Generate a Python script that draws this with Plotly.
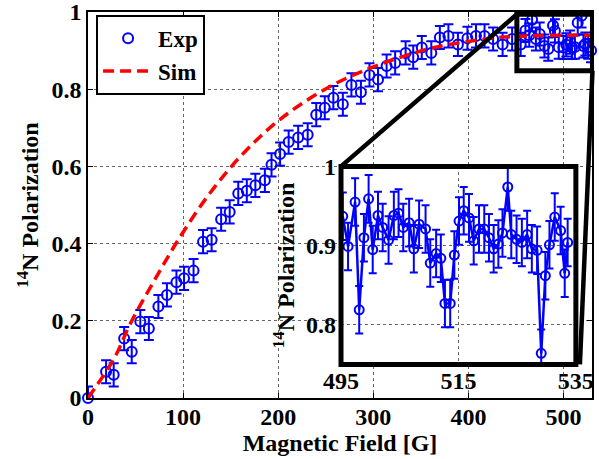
import plotly.graph_objects as go

# ---- Main experimental data (Magnetic field [G], 14N polarization) ----
exp_field = [0, 19, 27, 38, 46, 55, 64, 74, 83, 93, 101, 111, 121, 130, 140, 149, 158, 167,
             176, 186, 193, 202, 211, 221, 231, 240, 249, 258, 268, 277, 287, 296, 305, 314,
             323, 334, 342, 351, 361, 370, 379, 389, 399, 408, 417, 426, 436, 446, 455, 460,
             464, 467, 471, 475, 480, 484, 489, 491, 495, 500, 503, 507, 509, 512, 515, 519,
             521, 523, 526, 529]
exp_pol = [0.0, 0.068, 0.06, 0.154, 0.12, 0.198, 0.18, 0.237, 0.267, 0.300, 0.310, 0.330,
           0.405, 0.410, 0.463, 0.482, 0.530, 0.537, 0.551, 0.564, 0.604, 0.632, 0.663, 0.675,
           0.682, 0.734, 0.752, 0.778, 0.761, 0.811, 0.792, 0.837, 0.825, 0.860, 0.868, 0.894,
           0.883, 0.908, 0.894, 0.934, 0.938, 0.916, 0.932, 0.938, 0.938, 0.930, 0.916, 0.930,
           0.916, 0.952, 0.940, 0.980, 0.930, 0.943, 0.912, 0.904, 0.965, 0.951, 0.909, 0.908,
           0.915, 0.922, 0.908, 0.909, 0.972, 0.990, 0.912, 0.917, 0.909, 0.900]
exp_err = 0.03

# ---- Simulation curve ----
sim_field = [0, 28, 44, 71, 95, 125, 160, 202, 253, 297, 329, 364, 418, 453, 530]
sim_pol = [0.0, 0.105, 0.19, 0.31, 0.41, 0.52, 0.625, 0.722, 0.805, 0.855, 0.883, 0.908,
           0.93, 0.937, 0.94]

# ---- Inset (zoomed) data ----
inset_field = [495.3, 496.2, 497.4, 498.1, 498.9, 499.7, 500.4, 501.3, 502.1, 503.1, 504.0,
               504.8, 505.6, 506.6, 507.4, 508.3, 509.4, 510.2, 511.2, 512.0, 512.7, 513.6,
               514.3, 515.1, 515.9, 516.8, 517.6, 518.5, 519.4, 520.2, 521.0, 521.8, 522.5,
               523.4, 524.0, 524.9, 525.8, 526.7, 527.5, 528.4, 529.1, 529.8, 530.5, 531.4,
               532.4, 533.1, 533.6]
inset_pol = [0.937, 0.899, 0.955, 0.819, 0.910, 0.959, 0.895, 0.938, 0.923, 0.907, 0.938,
             0.941, 0.923, 0.929, 0.896, 0.927, 0.921, 0.878, 0.890, 0.884, 0.827, 0.827,
             0.888, 0.931, 0.944, 0.935, 0.906, 0.921, 0.921, 0.910, 0.896, 0.902, 0.916,
             0.974, 0.914, 0.908, 0.904, 0.914, 0.896, 0.894, 0.764, 0.862, 0.901, 0.936,
             0.919, 0.865, 0.904]

x_ticks = [0, 100, 200, 300, 400, 500]
y_ticks = [0, 0.2, 0.4, 0.6, 0.8, 1]
inset_x_ticks = [495, 515, 535]
inset_y_ticks = [0.8, 0.9, 1]

X_RANGE = [0, 530]
Y_RANGE = [0, 1]
INSET_X_RANGE = [495, 535]
INSET_Y_RANGE = [0.75, 1.0]
ZOOM_BOX = dict(x0=451, x1=530.5, y0=0.848, y1=0.994)
INSET_XDOM = [0.502, 0.968]
INSET_YDOM = [0.087, 0.6]

BLUE = "rgb(0,0,255)"
RED = "rgb(255,0,0)"
FONT = "Liberation Serif"
FS = 24

fig = go.Figure()

# error bars (no legend icon)
fig.add_trace(go.Scatter(
    x=exp_field, y=exp_pol, mode="markers", showlegend=False, hoverinfo="skip",
    marker=dict(size=10, opacity=0),
    error_y=dict(type="constant", value=exp_err, color=BLUE, thickness=2, width=5),
    xaxis="x", yaxis="y",
))
fig.add_trace(go.Scatter(
    x=exp_field, y=exp_pol, mode="markers", name="Exp", cliponaxis=False,
    marker=dict(symbol="circle-open", size=10, color=BLUE, line=dict(width=2, color=BLUE)),
    xaxis="x", yaxis="y",
))
fig.add_trace(go.Scatter(
    x=sim_field, y=sim_pol, mode="lines", name="Sim",
    line=dict(color=RED, width=3.5, dash="11px,6px", shape="spline", smoothing=1.0),
    xaxis="x", yaxis="y",
))
fig.add_trace(go.Scatter(
    x=inset_field, y=inset_pol, mode="lines+markers", showlegend=False,
    marker=dict(symbol="circle-open", size=9, color=BLUE, line=dict(width=2, color=BLUE)),
    line=dict(color=BLUE, width=2.5),
    error_y=dict(type="constant", value=exp_err, color=BLUE, thickness=2, width=4),
    xaxis="x2", yaxis="y2",
))

bold = dict(family=FONT, size=FS, color="black", weight="bold")
grid = dict(showgrid=True, gridcolor="#666", griddash="dot", gridwidth=1, zeroline=False,
            automargin=False, ticklabeloverflow="allow")

fig.update_layout(
    width=599, height=459,
    margin=dict(l=88, r=7, t=12, b=61),
    paper_bgcolor="white", plot_bgcolor="white",
    font=bold,
    legend=dict(x=0.016, y=0.993, xanchor="left", yanchor="top",
                bgcolor="white", bordercolor="black", borderwidth=2,
                font=dict(family=FONT, size=23, color="black", weight="bold"),
                itemwidth=50, tracegroupgap=0),
    xaxis=dict(range=X_RANGE, domain=[0, 1], anchor="y", tickvals=x_ticks,
               ticks="inside", ticklen=5, tickcolor="black", mirror="ticks",
               showline=True, linecolor="black", linewidth=1.5, tickfont=bold,
               ticklabelstandoff=-4,
               title=dict(text="Magnetic Field [G]", standoff=0, font=bold),
               **grid),
    yaxis=dict(range=Y_RANGE, domain=[0, 1], anchor="x", tickvals=y_ticks,
               ticks="inside", ticklen=5, tickcolor="black", mirror="ticks",
               showline=True, linecolor="black", linewidth=1.5, tickfont=bold,
               title=dict(text="<sup>14</sup>N Polarization", standoff=6, font=bold),
               **grid),
    xaxis2=dict(range=INSET_X_RANGE, domain=INSET_XDOM, anchor="y2", tickvals=inset_x_ticks,
                ticks="", showline=False, tickfont=bold, ticklabelstandoff=0, **grid),
    yaxis2=dict(range=INSET_Y_RANGE, domain=INSET_YDOM, anchor="x2", tickvals=inset_y_ticks,
                ticks="", showline=False, tickfont=bold, ticklabelstandoff=4,
                title=dict(text="<sup>14</sup>N Polarization", standoff=4, font=bold),
                **grid),
)


def to_paper_x(v):
    return (v - X_RANGE[0]) / (X_RANGE[1] - X_RANGE[0])


def to_paper_y(v):
    return (v - Y_RANGE[0]) / (Y_RANGE[1] - Y_RANGE[0])


shapes = [
    dict(type="rect", xref="x2 domain", yref="y2 domain", x0=0, x1=1, y0=0, y1=1,
         line=dict(color="black", width=5), layer="above"),
    dict(type="rect", xref="x", yref="y", line=dict(color="black", width=5), layer="above",
         **ZOOM_BOX),
    dict(type="line", xref="paper", yref="paper",
         x0=to_paper_x(ZOOM_BOX["x0"]), y0=to_paper_y(ZOOM_BOX["y1"]),
         x1=INSET_XDOM[0], y1=INSET_YDOM[1], line=dict(color="black", width=4.5), layer="above"),
    dict(type="line", xref="paper", yref="paper",
         x0=to_paper_x(ZOOM_BOX["x1"]), y0=to_paper_y(ZOOM_BOX["y0"]),
         x1=INSET_XDOM[1] + 0.008, y1=INSET_YDOM[0], line=dict(color="black", width=4.5),
         layer="above"),
]
fig.update_layout(shapes=shapes)

fig.write_html("out.html", config={"displayModeBar": False},
               post_script="document.body.style.margin='0';document.body.style.overflow='hidden';")
